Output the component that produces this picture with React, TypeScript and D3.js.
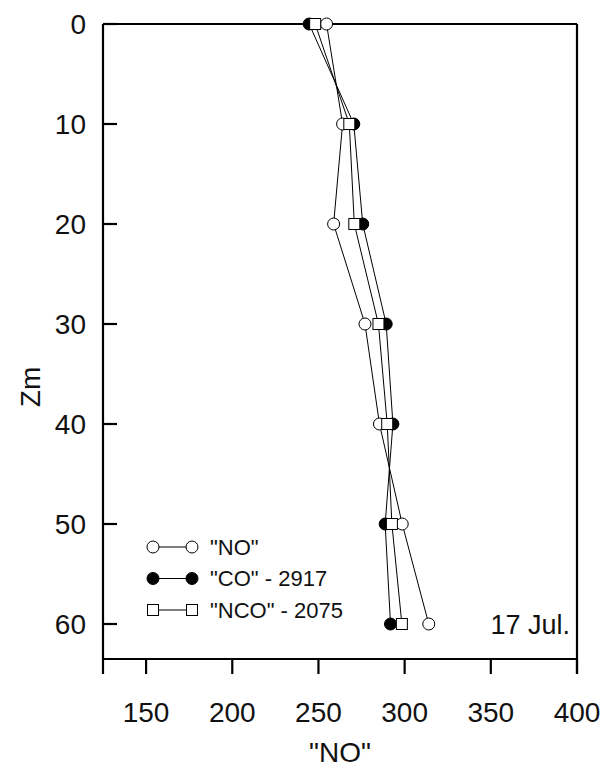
import React from "react";
import * as d3 from "d3";

const depths = [0, 10, 20, 30, 40, 50, 60];
const noValues = [254.7, 264, 258.8, 277, 285.4, 298.6, 314];
const coValues = [244.6, 270.5, 275.7, 289.3, 293.2, 288.7, 291.8];
const ncoValues = [248.1, 267.9, 270.8, 284.8, 289.9, 292.6, 298.4];
const xTicks = [150, 200, 250, 300, 350, 400];
const yTicks = [0, 10, 20, 30, 40, 50, 60];
const legendLabels = ['"NO"', '"CO" - 2917', '"NCO" - 2075'];

const W = 612, H = 764;
const left = 103, right = 577, top = 24;
const x = d3.scaleLinear().domain([125, 400]).range([left, right]);
const y = d3.scaleLinear().domain([0, 60]).range([top, 624]);
const bottom = y(63.5);
const font = "Liberation Sans, Arial, Helvetica, sans-serif";

type Kind = "open" | "filled" | "square";

function Marker({ cx, cy, kind }: { cx: number; cy: number; kind: Kind }) {
  if (kind === "square")
    return <rect x={cx - 5.5} y={cy - 5.5} width={11} height={11} fill="#fff" stroke="#000" strokeWidth={1} />;
  return <circle cx={cx} cy={cy} r={6} fill={kind === "filled" ? "#000" : "#fff"} stroke="#000" strokeWidth={1} />;
}

export default function App() {
  const series: { vals: number[]; kind: Kind }[] = [
    { vals: noValues, kind: "open" },
    { vals: coValues, kind: "filled" },
    { vals: ncoValues, kind: "square" },
  ];
  const line = d3
    .line<number>()
    .x((d) => x(d))
    .y((_, i) => y(depths[i]));
  return (
    <svg width={W} height={H} style={{ position: "absolute", left: 0, top: 0 }}>
      <rect width={W} height={H} fill="#fff" />
      {/* frame */}
      <g stroke="#000" strokeWidth={2.2} fill="none">
        <line x1={left} y1={top} x2={right} y2={top} />
        <line x1={left} y1={bottom} x2={right} y2={bottom} />
        <line x1={left} y1={top} x2={left} y2={bottom + 15} />
        <line x1={right} y1={top} x2={right} y2={bottom + 15} />
        {xTicks.map((t) => (
          <line key={t} x1={x(t)} x2={x(t)} y1={bottom} y2={bottom + 15} />
        ))}
        {yTicks.map((t) => (
          <line key={t} x1={left} x2={left + 14} y1={y(t)} y2={y(t)} />
        ))}
      </g>
      {/* tick labels */}
      <g fontFamily={font} fontSize={28} fill="#111">
        {xTicks.map((t) => (
          <text key={t} x={x(t)} y={722} textAnchor="middle">
            {t}
          </text>
        ))}
        {yTicks.map((t) => (
          <text key={t} x={86} y={y(t) + 10} textAnchor="end">
            {t}
          </text>
        ))}
      </g>
      <text x={340} y={762} textAnchor="middle" fontFamily={font} fontSize={28} fill="#111">
        "NO"
      </text>
      <text
        transform="translate(40,387) rotate(-90)"
        textAnchor="middle"
        fontFamily={font}
        fontSize={28}
        fill="#111"
      >
        Zm
      </text>
      <text x={570} y={634} textAnchor="end" fontFamily={font} fontSize={27} fill="#111">
        17 Jul.
      </text>
      {/* series */}
      {series.map((s, si) => (
        <g key={si}>
          <path d={line(s.vals) || ""} fill="none" stroke="#000" strokeWidth={1} />
          {s.vals.map((v, i) => (
            <Marker key={i} cx={x(v)} cy={y(depths[i])} kind={s.kind} />
          ))}
        </g>
      ))}
      {/* legend */}
      {legendLabels.map((lab, i) => {
        const ly = 547 + i * 31.5;
        const kind = series[i].kind;
        return (
          <g key={lab}>
            <line x1={153} x2={192} y1={ly} y2={ly} stroke="#000" strokeWidth={1} />
            <Marker cx={153} cy={ly} kind={kind} />
            <Marker cx={192} cy={ly} kind={kind} />
            <text x={210} y={ly + 7.5} fontFamily={font} fontSize={22} fill="#111">
              {lab}
            </text>
          </g>
        );
      })}
    </svg>
  );
}
